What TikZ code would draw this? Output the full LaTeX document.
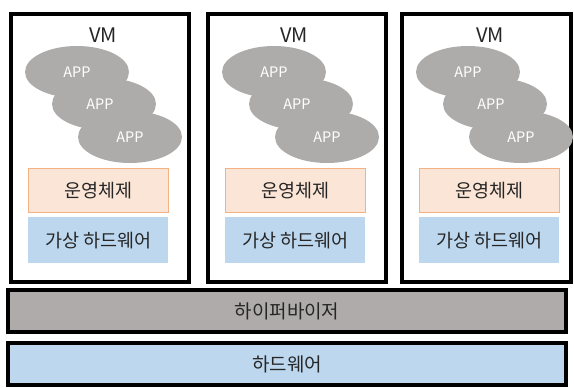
\documentclass[tikz,border=0pt]{standalone}
\usepackage{fontspec}
\setmainfont{Noto Sans CJK KR}
\usetikzlibrary{shapes.geometric}
\definecolor{appgray}{HTML}{AEABAB}
\definecolor{hvgray}{HTML}{AFABAB}
\definecolor{osfill}{HTML}{FBE5D6}
\definecolor{osline}{HTML}{F4B183}
\definecolor{hwblue}{HTML}{BDD7EE}
\definecolor{txt}{HTML}{262626}
\tikzset{
  vmbox/.style={draw=black, line width=4pt, fill=white, anchor=north west, minimum height=268pt, inner sep=0pt},
  appell/.style={ellipse, fill=appgray, minimum width=104pt, minimum height=52pt, inner sep=0pt, text=white, font=\fontsize{14.5}{14.5}\selectfont},
  osbox/.style={draw=osline, line width=0.8pt, fill=osfill, anchor=north west, minimum width=140pt, minimum height=44pt, inner sep=0pt, text=txt, font=\fontsize{18.5}{18.5}\selectfont},
  vhbox/.style={fill=hwblue, anchor=north west, minimum width=140pt, minimum height=46pt, inner sep=0pt, text=txt, font=\fontsize{18.5}{18.5}\selectfont},
  vmlabel/.style={text=txt, font=\fontsize{20}{20}\selectfont, inner sep=0pt},
  layerbox/.style={draw=black, line width=4pt, minimum width=558pt, minimum height=42pt, inner sep=0pt, text=txt, font=\fontsize{19}{19}\selectfont}
}
\begin{document}
\begin{tikzpicture}[x=1pt,y=-1pt]
\useasboundingbox (0,0) rectangle (574,388);
\fill[white] (0,0) rectangle (574,388);
\foreach \i/\x/\w/\lx in {1/9/178/94, 2/206/178/88, 3/400/169/90} {
  \node[vmbox, minimum width=\w pt] (vm\i) at (\x,12) {};
  \node[vmlabel] (vml\i) at (\x+\lx,35) {VM};
  \node[appell] (appa\i) at (\x+68,72) {APP};
  \node[appell] (appb\i) at (\x+95,104) {\hspace*{-8pt}APP};
  \node[appell] (appc\i) at (\x+121,137) {APP};
  \node[osbox] (os\i) at (\x+19,168) {운영체제};
  \node[vhbox] (vh\i) at (\x+19,217) {가상 하드웨어};
}
\node[layerbox, fill=hvgray] (hv) at (287,311) {하이퍼바이저};
\node[layerbox, fill=hwblue] (hw) at (287,364) {하드웨어};
\end{tikzpicture}
\end{document}
